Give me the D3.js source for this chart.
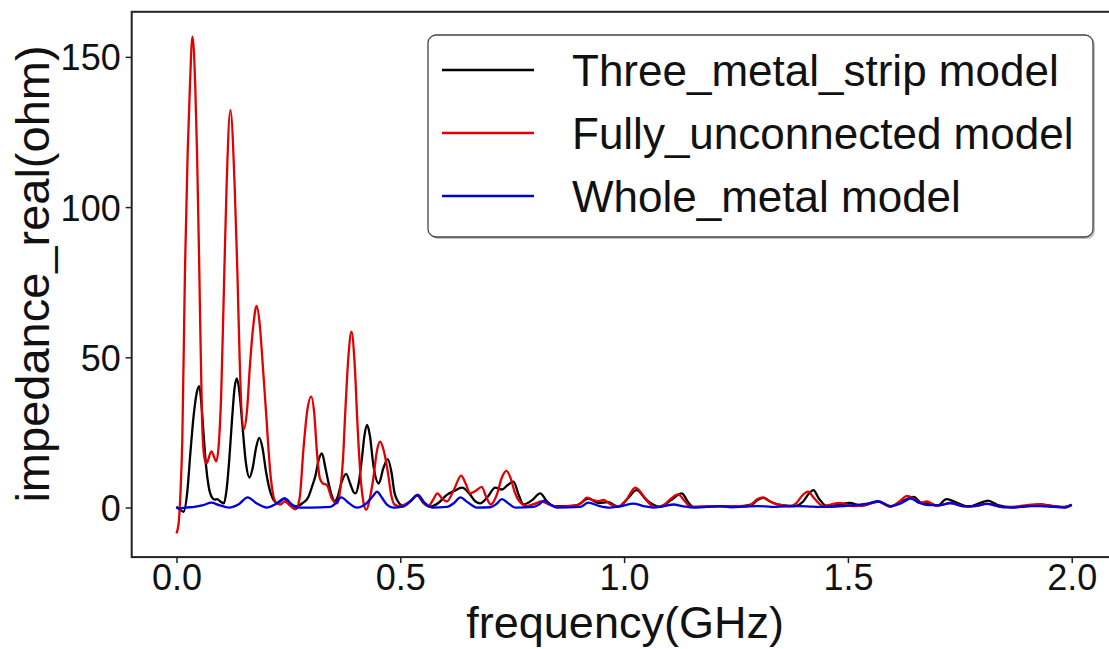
<!DOCTYPE html>
<html>
<head>
<meta charset="utf-8">
<script src="https://cdn.jsdelivr.net/npm/d3@7"></script>
<style>
  html, body { margin: 0; padding: 0; background: #fff; }
  svg { display: block; }
</style>
</head>
<body>
<svg id="chart" width="1109" height="649"></svg>
<script>
// ---- data (frequency in GHz, impedance real part in ohm) ----
const seriesNames = ["Three_metal_strip model", "Fully_unconnected model", "Whole_metal model"];
const seriesColors = ["#000000", "#e20000", "#0000dd"];
const xTicks = [0.0, 0.5, 1.0, 1.5, 2.0];
const yTicks = [0, 50, 100, 150];

const threeStrip = [
  [0.000,0.3],[0.008,-0.8],[0.016,-1.4],[0.024,5],[0.031,18],[0.038,30],[0.045,38],[0.051,40.4],
  [0.056,34],[0.061,23.6],[0.066,14],[0.072,6.9],[0.080,3.2],[0.086,2.6],[0.091,2.8],[0.098,2],
  [0.106,1.4],[0.112,6],[0.118,16],[0.124,29],[0.130,40],[0.135,43],[0.141,38],[0.147,28],
  [0.155,15],[0.163,10],[0.170,13],[0.178,20],[0.185,23.2],[0.192,20],[0.200,12],[0.210,5],
  [0.225,1.4],[0.241,3],[0.255,0.8],[0.269,0.5],[0.282,1.5],[0.295,3.6],[0.303,7],[0.310,10.3],
  [0.318,16],[0.325,18],[0.333,13],[0.340,8],[0.347,4],[0.353,2],[0.360,3.5],[0.368,8],
  [0.379,11.2],[0.388,8],[0.395,5.3],[0.400,4.7],[0.407,8],[0.414,16],[0.420,24],[0.426,27.5],
  [0.432,24],[0.440,14],[0.452,8],[0.462,13],[0.472,16.1],[0.480,12],[0.487,5],[0.493,2.5],
  [0.507,0.5],[0.522,2],[0.538,4],[0.552,1.5],[0.567,0.3],[0.585,1.5],[0.604,4.2],[0.620,5.5],
  [0.638,6.6],[0.655,4.5],[0.668,2],[0.679,1.4],[0.695,3.5],[0.712,6.6],[0.727,6],[0.740,7.5],
  [0.753,8.6],[0.765,4],[0.775,1],[0.795,2.5],[0.8125,4.7],[0.828,2],[0.842,0.5],[0.870,0.5],
  [0.895,0.8],[0.920,3],[0.943,1.5],[0.964,1.8],[0.987,0.3],[1.008,3],[1.028,5.8],[1.050,2.5],
  [1.080,0.2],[1.105,2.5],[1.129,4.7],[1.142,2],[1.155,0.2],[1.200,0.4],[1.250,0.4],[1.285,1],
  [1.298,2.5],[1.311,3.2],[1.326,2],[1.345,1],[1.380,0.5],[1.400,2],[1.412,4.5],[1.423,5.8],
  [1.435,3],[1.455,0.3],[1.480,1],[1.504,1.5],[1.530,0.6],[1.568,2],[1.594,0.3],[1.620,2],
  [1.647,3.5],[1.665,1.5],[1.680,1.5],[1.700,0.6],[1.720,2.8],[1.745,1.5],[1.770,0.3],[1.795,1.5],
  [1.813,2.3],[1.835,0.8],[1.866,0.1],[1.900,0.4],[1.930,1],[1.960,0.5],[1.984,0.2],[2.000,0.9]
];

const fullyUnconnected = [
  [0.000,-8.6],[0.005,-5],[0.009,5],[0.013,22],[0.019,79],[0.025,118],[0.030,140],[0.0357,156.7],
  [0.042,140],[0.046,118],[0.051,79],[0.057,30],[0.062,17],[0.067,14.7],[0.078,18.7],[0.089,15.4],
  [0.095,22],[0.100,38],[0.107,79],[0.112,107],[0.1205,132.3],[0.130,107],[0.136,79],[0.142,45],
  [0.150,26],[0.158,33],[0.164,47],[0.172,61],[0.179,67.1],[0.186,61],[0.193,47],[0.200,32],
  [0.210,11],[0.221,1.9],[0.232,1],[0.242,2],[0.255,0.5],[0.266,-0.6],[0.275,3],[0.284,20],
  [0.292,32],[0.301,36.9],[0.308,31],[0.314,18],[0.320,10],[0.327,8],[0.336,7.5],[0.347,3],
  [0.359,1.4],[0.366,6],[0.372,16],[0.377,31.4],[0.384,50],[0.391,58.5],[0.398,48],[0.405,25.8],
  [0.412,9],[0.418,1.5],[0.424,-0.8],[0.432,3],[0.440,10],[0.448,19],[0.455,21.9],[0.463,19],
  [0.472,12],[0.480,4],[0.487,1],[0.497,0.5],[0.510,1],[0.525,2.5],[0.539,4.2],[0.553,1.5],
  [0.563,0.5],[0.573,2.5],[0.583,4.7],[0.593,3],[0.604,2],[0.620,6],[0.636,10.6],[0.646,8],
  [0.656,4.7],[0.668,5.5],[0.682,6.9],[0.692,3.5],[0.702,1],[0.715,4],[0.727,10],[0.737,12.2],
  [0.746,10],[0.756,5],[0.764,2.5],[0.783,0.5],[0.800,1.2],[0.816,2],[0.833,1],[0.850,0.3],
  [0.870,0.4],[0.890,0.6],[0.905,1.6],[0.917,3.3],[0.930,2.5],[0.942,2.1],[0.954,2.5],[0.970,1],
  [0.987,0.3],[1.005,2.5],[1.025,6.6],[1.045,3.5],[1.060,0.8],[1.073,0.2],[1.090,1],[1.105,3],
  [1.121,4.4],[1.136,2],[1.151,0.2],[1.175,0.3],[1.200,0.5],[1.225,0.4],[1.250,0.5],[1.270,0.4],
  [1.285,1.2],[1.298,2.8],[1.311,3.4],[1.326,2],[1.345,1],[1.371,0.5],[1.385,1.5],[1.398,4],
  [1.411,5.3],[1.425,3],[1.445,0.5],[1.462,1],[1.482,1.5],[1.512,0.5],[1.540,1],[1.568,2],
  [1.594,0.3],[1.615,2],[1.632,3.9],[1.648,2.8],[1.661,1.6],[1.676,2],[1.698,0.5],[1.728,1.5],
  [1.765,0.3],[1.790,0.6],[1.810,1.3],[1.847,0.1],[1.880,0.4],[1.921,1],[1.950,0.6],[1.984,0.1],
  [2.000,0.9]
];

const wholeMetal = [
  [0.000,0],[0.010,-0.3],[0.020,0],[0.040,0.2],[0.060,0.8],[0.078,1.6],[0.095,0.8],[0.117,0],
  [0.140,1.2],[0.159,3.4],[0.178,1.5],[0.202,0],[0.222,1.2],[0.242,3],[0.258,1],[0.268,0],
  [0.300,0],[0.344,0.2],[0.356,1.5],[0.368,3.4],[0.385,1.5],[0.403,0],[0.425,1.5],[0.440,4],
  [0.448,5.3],[0.458,3.5],[0.470,1],[0.485,0],[0.505,0.3],[0.522,2],[0.539,4.2],[0.555,1.5],
  [0.571,0],[0.604,0.2],[0.620,1.5],[0.634,3.4],[0.650,1.8],[0.671,0],[0.701,0.1],[0.715,1.2],
  [0.727,2.8],[0.742,1.3],[0.757,0],[0.798,0.2],[0.810,1],[0.821,2.3],[0.835,1],[0.850,0],
  [0.902,0.2],[0.920,1.6],[0.945,0.5],[0.969,0],[0.995,0.5],[1.021,1.3],[1.043,0.5],[1.065,0],
  [1.090,0.5],[1.110,1],[1.133,0.4],[1.155,0],[1.185,0.2],[1.214,0.5],[1.240,0.1],[1.270,0.3],
  [1.300,0.5],[1.330,0.2],[1.360,0.4],[1.390,0.5],[1.420,0.3],[1.450,0.2],[1.480,0.4],[1.510,0.7],
  [1.540,1.2],[1.568,2],[1.595,0.5],[1.620,1.5],[1.640,3],[1.660,1.5],[1.680,0.8],[1.705,0.8],
  [1.730,1.5],[1.755,0.5],[1.785,0.5],[1.810,1.2],[1.840,0.3],[1.870,0],[1.900,0.5],[1.930,0.5],
  [1.960,0.2],[1.985,0],[2.000,0.9]
];

const seriesData = [threeStrip, fullyUnconnected, wholeMetal];

// ---- layout ----
const svg = d3.select("#chart");
const W = 1109, H = 649;
const plot = { left: 131.7, right: 1116.5, top: 11.8, bottom: 557.1 };
const fontFamily = "'Liberation Sans', Arial, Helvetica, sans-serif";

svg.append("rect").attr("width", W).attr("height", H).attr("fill", "#fff");

const x = d3.scaleLinear().domain([-0.1, 2.1]).range([plot.left, plot.right]);
const y = d3.scaleLinear().domain([-16.5, 165]).range([plot.bottom, plot.top]);

svg.append("defs").append("clipPath").attr("id", "clip")
  .append("rect")
  .attr("x", plot.left).attr("y", plot.top)
  .attr("width", plot.right - plot.left).attr("height", plot.bottom - plot.top);

// lines
const line = d3.line()
  .x(d => x(d[0]))
  .y(d => y(d[1]))
  .curve(d3.curveMonotoneX);

const gLines = svg.append("g").attr("clip-path", "url(#clip)");
seriesData.forEach((data, i) => {
  gLines.append("path")
    .datum(data)
    .attr("fill", "none")
    .attr("stroke", seriesColors[i])
    .attr("stroke-width", 2.3)
    .attr("stroke-linejoin", "round")
    .attr("d", line);
});

// axes
const xAxis = d3.axisBottom(x).tickValues(xTicks).tickFormat(d3.format(".1f"))
  .tickSize(6).tickPadding(1);
const yAxis = d3.axisLeft(y).tickValues(yTicks).tickFormat(d3.format("d"))
  .tickSize(6).tickPadding(5);

const gx = svg.append("g").attr("transform", `translate(0,${plot.bottom})`).call(xAxis);
const gy = svg.append("g").attr("transform", `translate(${plot.left},0)`).call(yAxis);
[gx, gy].forEach(g => {
  g.select(".domain").remove();
  g.selectAll(".tick line").attr("stroke", "#222").attr("stroke-width", 1.5);
  g.selectAll(".tick text")
    .attr("fill", "#111")
    .style("font-family", fontFamily)
    .style("font-size", "36px");
});
gx.selectAll(".tick text").attr("dy", "0.71em");
gy.selectAll(".tick text").attr("dy", "0.36em");

// spines
svg.append("rect")
  .attr("x", plot.left).attr("y", plot.top)
  .attr("width", plot.right - plot.left).attr("height", plot.bottom - plot.top)
  .attr("fill", "none").attr("stroke", "#222").attr("stroke-width", 2);

// axis labels
svg.append("text")
  .attr("x", (plot.left + plot.right) / 2 + 1)
  .attr("y", 638)
  .attr("text-anchor", "middle")
  .attr("fill", "#111")
  .style("font-family", fontFamily)
  .style("font-size", "45px")
  .text("frequency(GHz)");

svg.append("text")
  .attr("transform", `translate(49,274) rotate(-90)`)
  .attr("text-anchor", "middle")
  .attr("fill", "#111")
  .style("font-family", fontFamily)
  .style("font-size", "47px")
  .text("impedance_real(ohm)");

// legend
const leg = svg.append("g");
leg.append("rect")
  .attr("x", 430).attr("y", 37).attr("width", 665).attr("height", 202).attr("rx", 8)
  .attr("fill", "#9a9a9a").attr("opacity", 0.6);
leg.append("rect")
  .attr("x", 428).attr("y", 35).attr("width", 665).attr("height", 202).attr("rx", 8)
  .attr("fill", "#fff").attr("stroke", "#444").attr("stroke-width", 1.3);
const rowY = [70, 133, 196];
seriesNames.forEach((name, i) => {
  leg.append("line")
    .attr("x1", 442).attr("x2", 534).attr("y1", rowY[i]).attr("y2", rowY[i])
    .attr("stroke", seriesColors[i]).attr("stroke-width", 2.3);
  leg.append("text")
    .attr("x", 572).attr("y", rowY[i] + 15.5)
    .attr("fill", "#111")
    .style("font-family", fontFamily)
    .style("font-size", "44px")
    .text(name);
});
</script>
</body>
</html>
